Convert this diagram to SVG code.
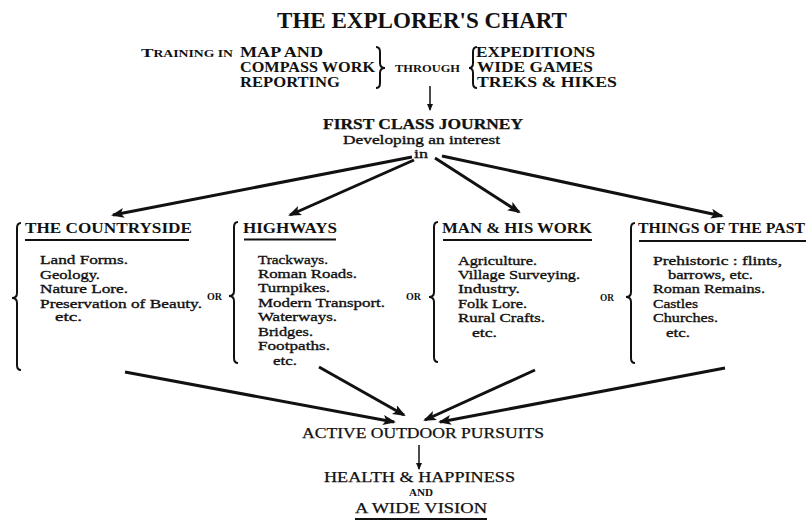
<svg xmlns="http://www.w3.org/2000/svg" width="807" height="522" viewBox="0 0 807 522">
<defs>
<marker id="ah" markerUnits="userSpaceOnUse" markerWidth="14" markerHeight="12" refX="11" refY="5" orient="auto"><path d="M0,0 L13,5 L0,10 L3,5 z" fill="#111"/></marker>
<marker id="ahs" markerUnits="userSpaceOnUse" markerWidth="8" markerHeight="8" refX="6" refY="3" orient="auto"><path d="M0,0 L7,3 L0,6 z" fill="#111"/></marker>
<style>
text{font-family:"Liberation Serif","DejaVu Serif",serif;fill:#111}
.t{font-size:24px;font-weight:bold}
.h{font-size:15px;font-weight:bold}
.sc{font-size:10px;font-weight:bold}
.i{font-size:13.5px;stroke:#111;stroke-width:0.35}
.m{font-size:14px;stroke:#111;stroke-width:0.25}
.br{fill:none;stroke:#111;stroke-width:2}
.ul{stroke:#111;stroke-width:2.2}
.c{stroke:#111;stroke-width:3;fill:none;marker-end:url(#ah)}
.cs{stroke:#111;stroke-width:1.5;fill:none;marker-end:url(#ahs)}
</style>
</defs>
<rect width="807" height="522" fill="#fff"/>

<g id="title"><text class="t" x="277" y="28" textLength="290" lengthAdjust="spacingAndGlyphs">THE EXPLORER'S CHART</text></g>

<g id="training">
<text x="141" y="57" font-weight="bold" textLength="92" lengthAdjust="spacingAndGlyphs"><tspan font-size="13">T</tspan><tspan font-size="9.5">RAINING IN</tspan></text>
<text class="h" x="240" y="57" textLength="83" lengthAdjust="spacingAndGlyphs">MAP AND</text>
<text class="h" x="240" y="72" textLength="135" lengthAdjust="spacingAndGlyphs">COMPASS WORK</text>
<text class="h" x="240" y="87" textLength="100" lengthAdjust="spacingAndGlyphs">REPORTING</text>
<path class="br" d="M376,47 Q380,47 380,52 L380,63 Q380,68 385,68 Q380,68 380,73 L380,83 Q380,88 376,88"/>
<text class="sc" x="395" y="72" textLength="65" lengthAdjust="spacingAndGlyphs">THROUGH</text>
<path class="br" d="M477,47 Q473,47 473,52 L473,63 Q473,68 469,68 Q473,68 473,73 L473,83 Q473,88 477,88"/>
<text class="h" x="476" y="57" textLength="119" lengthAdjust="spacingAndGlyphs">EXPEDITIONS</text>
<text class="h" x="477" y="72" textLength="116" lengthAdjust="spacingAndGlyphs">WIDE GAMES</text>
<text class="h" x="477" y="87" textLength="140" lengthAdjust="spacingAndGlyphs">TREKS &amp; HIKES</text>
</g>

<g id="journey">
<text class="m" font-weight="bold" x="323" y="129" textLength="200" lengthAdjust="spacingAndGlyphs">FIRST CLASS JOURNEY</text>
<text class="i" x="343" y="144" textLength="157" lengthAdjust="spacingAndGlyphs">Developing an interest</text>
<text class="i" x="414" y="158" textLength="14" lengthAdjust="spacingAndGlyphs">in</text>
</g>

<g id="countryside">
<path class="br" d="M21,223 Q17,223 17,228 L17,293 Q17,298 12,298 Q17,298 17,303 L17,365 Q17,370 21,370"/>
<text class="h" x="25" y="233" textLength="167" lengthAdjust="spacingAndGlyphs">THE COUNTRYSIDE</text>
<line class="ul" x1="25" y1="240" x2="189" y2="240"/>
<text class="i" x="40" y="264" textLength="88" lengthAdjust="spacingAndGlyphs">Land Forms.</text>
<text class="i" x="40" y="278.5" textLength="60" lengthAdjust="spacingAndGlyphs">Geology.</text>
<text class="i" x="40" y="293" textLength="88" lengthAdjust="spacingAndGlyphs">Nature Lore.</text>
<text class="i" x="40" y="307.5" textLength="162" lengthAdjust="spacingAndGlyphs">Preservation of Beauty.</text>
<text class="i" x="55" y="321" textLength="27" lengthAdjust="spacingAndGlyphs">etc.</text>
</g>

<g id="or1"><text class="sc" font-size="9" x="207" y="300" textLength="15" lengthAdjust="spacingAndGlyphs">OR</text></g>

<g id="highways">
<path class="br" d="M238,222 Q234,222 234,227 L234,291 Q234,296 229,296 Q234,296 234,301 L234,358 Q234,363 238,363"/>
<text class="h" x="243" y="233" textLength="94" lengthAdjust="spacingAndGlyphs">HIGHWAYS</text>
<line class="ul" x1="244" y1="239.5" x2="336" y2="239.5"/>
<text class="i" x="258" y="264" textLength="70" lengthAdjust="spacingAndGlyphs">Trackways.</text>
<text class="i" x="258" y="278" textLength="99" lengthAdjust="spacingAndGlyphs">Roman Roads.</text>
<text class="i" x="258" y="292" textLength="72" lengthAdjust="spacingAndGlyphs">Turnpikes.</text>
<text class="i" x="258" y="307" textLength="127" lengthAdjust="spacingAndGlyphs">Modern Transport.</text>
<text class="i" x="258" y="321" textLength="79" lengthAdjust="spacingAndGlyphs">Waterways.</text>
<text class="i" x="258" y="335.5" textLength="55" lengthAdjust="spacingAndGlyphs">Bridges.</text>
<text class="i" x="258" y="350" textLength="72" lengthAdjust="spacingAndGlyphs">Footpaths.</text>
<text class="i" x="273" y="365" textLength="24" lengthAdjust="spacingAndGlyphs">etc.</text>
</g>

<g id="or2"><text class="sc" font-size="9" x="406" y="300" textLength="15" lengthAdjust="spacingAndGlyphs">OR</text></g>

<g id="man">
<path class="br" d="M438,222 Q434,222 434,227 L434,292 Q434,297 429,297 Q434,297 434,302 L434,357 Q434,362 438,362"/>
<text class="h" x="442" y="233" textLength="150" lengthAdjust="spacingAndGlyphs">MAN &amp; HIS WORK</text>
<line class="ul" x1="443" y1="240" x2="592" y2="240"/>
<text class="i" x="458" y="265" textLength="79" lengthAdjust="spacingAndGlyphs">Agriculture.</text>
<text class="i" x="458" y="279" textLength="122" lengthAdjust="spacingAndGlyphs">Village Surveying.</text>
<text class="i" x="458" y="293" textLength="62" lengthAdjust="spacingAndGlyphs">Industry.</text>
<text class="i" x="458" y="307.5" textLength="69" lengthAdjust="spacingAndGlyphs">Folk Lore.</text>
<text class="i" x="458" y="321.5" textLength="87" lengthAdjust="spacingAndGlyphs">Rural Crafts.</text>
<text class="i" x="472" y="336.5" textLength="25" lengthAdjust="spacingAndGlyphs">etc.</text>
</g>

<g id="or3"><text class="sc" font-size="9" x="600" y="301" textLength="14" lengthAdjust="spacingAndGlyphs">OR</text></g>

<g id="past">
<path class="br" d="M635,223 Q631,223 631,228 L631,292 Q631,297 626,297 Q631,297 631,302 L631,358 Q631,363 635,363"/>
<text class="h" x="638" y="233" textLength="167" lengthAdjust="spacingAndGlyphs">THINGS OF THE PAST</text>
<line class="ul" x1="639" y1="241" x2="806" y2="241"/>
<text class="i" x="653" y="265" textLength="129" lengthAdjust="spacingAndGlyphs">Prehistoric :  flints,</text>
<text class="i" x="668" y="279" textLength="85" lengthAdjust="spacingAndGlyphs">barrows, etc.</text>
<text class="i" x="653" y="293" textLength="112" lengthAdjust="spacingAndGlyphs">Roman Remains.</text>
<text class="i" x="653" y="307.5" textLength="45" lengthAdjust="spacingAndGlyphs">Castles</text>
<text class="i" x="653" y="321.5" textLength="65" lengthAdjust="spacingAndGlyphs">Churches.</text>
<text class="i" x="666" y="336.5" textLength="24" lengthAdjust="spacingAndGlyphs">etc.</text>
</g>

<g id="outdoor"><text class="m" x="302" y="438" textLength="242" lengthAdjust="spacingAndGlyphs">ACTIVE OUTDOOR PURSUITS</text></g>

<g id="health">
<text class="m" x="324" y="482" textLength="191" lengthAdjust="spacingAndGlyphs">HEALTH &amp; HAPPINESS</text>
<text class="sc" font-size="8" x="409" y="496" textLength="24" lengthAdjust="spacingAndGlyphs">AND</text>
<text class="m" x="355" y="513" textLength="132" lengthAdjust="spacingAndGlyphs">A WIDE VISION</text>
<line class="ul" x1="355" y1="519" x2="487" y2="519"/>
</g>

<g id="connectors">
<line class="cs" x1="430" y1="86" x2="430" y2="110"/>
<line class="c" x1="412" y1="157" x2="113" y2="215"/>
<line class="c" x1="414" y1="160" x2="290" y2="215"/>
<line class="c" x1="435" y1="158" x2="519" y2="212"/>
<line class="c" x1="442" y1="156" x2="722" y2="216"/>
<line class="c" x1="125" y1="372" x2="394" y2="422"/>
<line class="c" x1="319" y1="367" x2="404" y2="415"/>
<line class="c" x1="535" y1="370" x2="425" y2="420"/>
<line class="c" x1="725" y1="368" x2="440" y2="422"/>
<line class="cs" x1="419" y1="445" x2="419" y2="469"/>
</g>
</svg>
